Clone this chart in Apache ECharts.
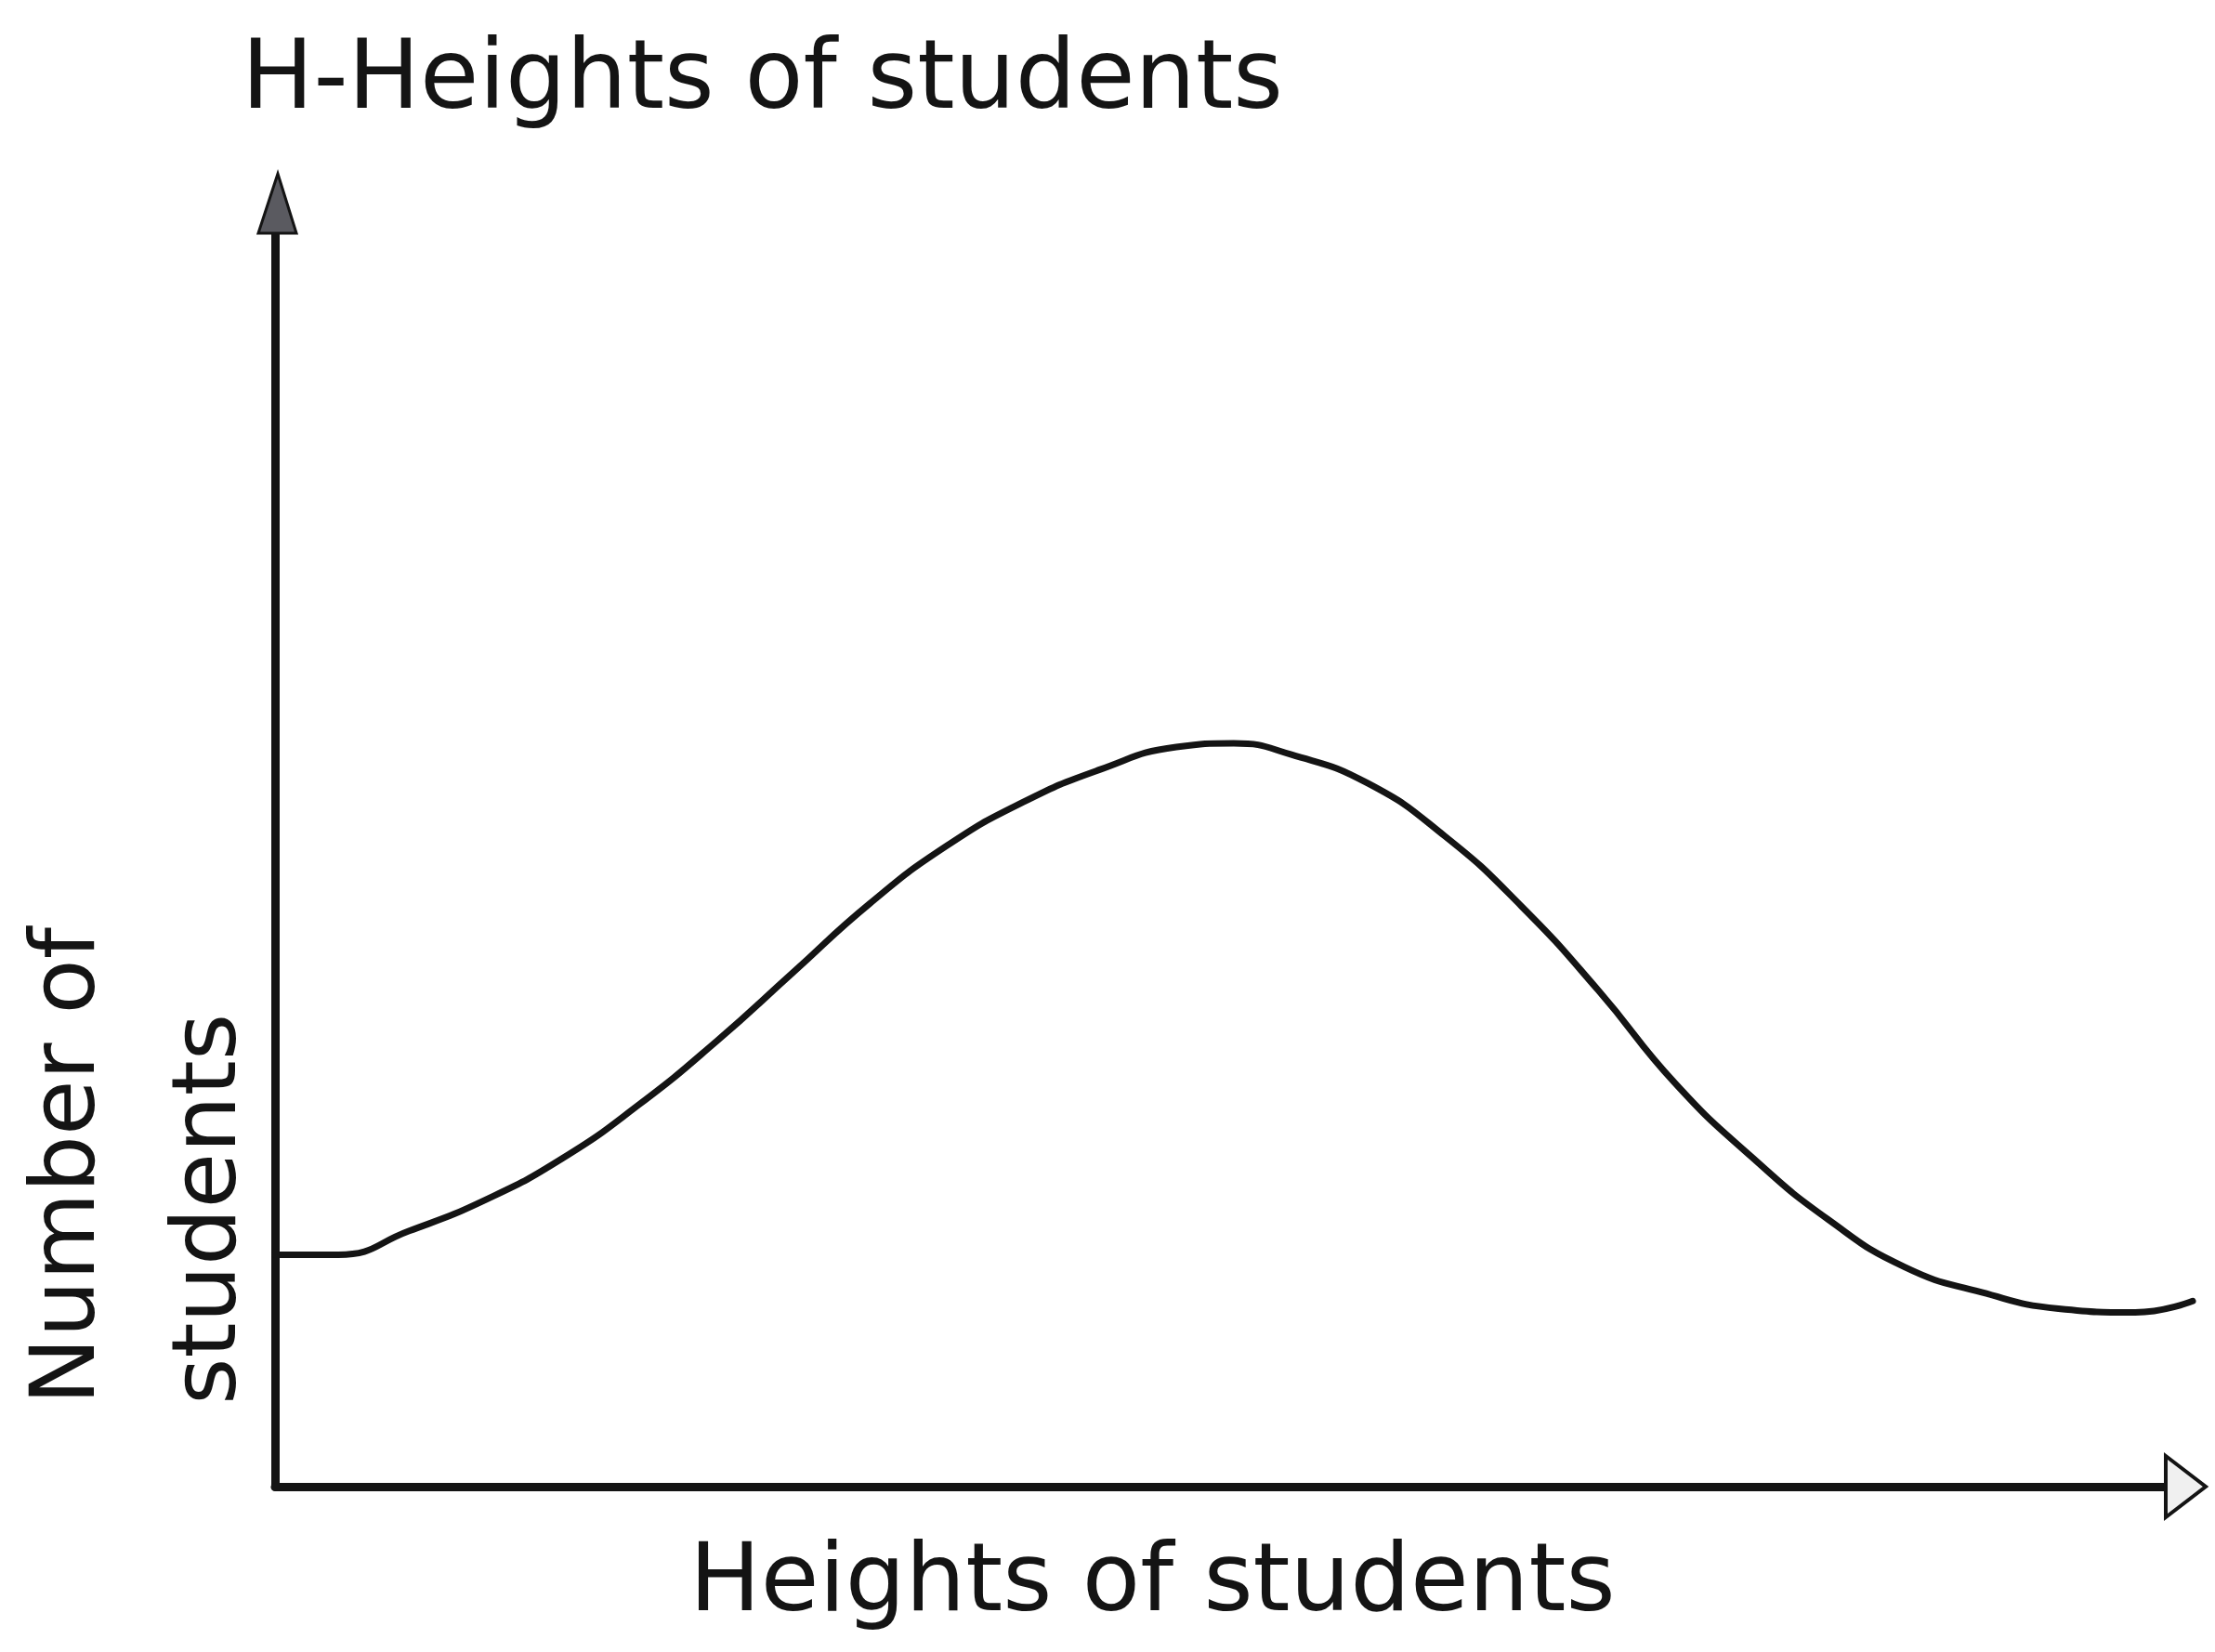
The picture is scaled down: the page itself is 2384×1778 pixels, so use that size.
<!DOCTYPE html>
<html>
<head>
<meta charset="utf-8">
<script src="https://cdn.jsdelivr.net/npm/echarts@6/dist/echarts.min.js"></script>
<style>
  html, body { margin: 0; padding: 0; background: #ffffff; }
  #chart { width: 2384px; height: 1778px; }
</style>
</head>
<body>
<div id="chart"></div>
<script>
// ---- data (arbitrary units, axes run 0..100) ----
const titleText = 'H-Heights of students';
const xAxisName = 'Heights of students';
const yAxisName = 'Number of\nstudents';
const heights = [0, 3.3, 7, 11, 15, 19, 23, 27, 31, 35, 39, 43, 47, 50, 53, 57, 61, 65, 69, 73, 77, 81, 85, 89, 93, 97, 100];
const students = [18.5, 18.5, 20.4, 22.9, 26.2, 30.5, 35.5, 41.0, 46.5, 51.1, 54.6, 57.2, 59.0, 59.3, 58.4, 56.1, 51.9, 46.3, 39.6, 32.2, 26.3, 21.3, 17.5, 15.5, 14.2, 13.9, 14.8];
const xRange = [0, 100];
const yRange = [0, 100];

const ink = '#141414';
const font = 'DejaVu Sans';

const chart = echarts.init(document.getElementById('chart'), null, { renderer: 'canvas' });

const curve = heights.map((h, i) => [h, students[i]]);

chart.setOption({
  backgroundColor: '#ffffff',
  animation: false,
  title: {
    text: titleText,
    left: 255,
    top: 23,
    textStyle: { fontFamily: font, fontSize: 103, fontWeight: 'normal', color: ink, lineHeight: 122 }
  },
  grid: { left: 296, right: 24, top: 251, bottom: 178, containLabel: false, outerBoundsMode: 'none' },
  xAxis: {
    type: 'value', min: xRange[0], max: xRange[1],
    name: xAxisName, nameLocation: 'start', nameGap: -446,
    nameTextStyle: { fontFamily: font, fontSize: 102, color: ink, align: 'left', verticalAlign: 'top',
      lineHeight: 122, padding: [45, 0, 0, 0] },
    axisLine: { show: true, onZero: false, lineStyle: { color: ink, width: 9 } },
    axisTick: { show: false }, axisLabel: { show: false }, splitLine: { show: false }
  },
  yAxis: {
    type: 'value', min: yRange[0], max: yRange[1],
    name: yAxisName, nameLocation: 'start', nameGap: -88, nameRotate: 90,
    nameTextStyle: { fontFamily: font, fontSize: 97, color: ink, align: 'left', verticalAlign: 'bottom',
      lineHeight: 152, padding: [0, 0, -8, 0] },
    axisLine: { show: true, onZero: false, lineStyle: { color: ink, width: 9 } },
    axisTick: { show: false }, axisLabel: { show: false }, splitLine: { show: false }
  },
  series: [{
    type: 'line',
    data: curve,
    smooth: 0.5,
    symbol: 'none',
    lineStyle: { color: ink, width: 7, join: 'round', cap: 'round' },
    z: 3
  }]
});

// axis arrow heads (decoration), placed from the axes' own pixel ends
const yEnd = chart.convertToPixel({ gridIndex: 0 }, [xRange[0], yRange[1]]);
const xEnd = chart.convertToPixel({ gridIndex: 0 }, [xRange[1], yRange[0]]);
chart.setOption({
  graphic: [
    {
      type: 'polygon', z: 100,
      shape: { points: [[yEnd[0] + 3, yEnd[1] - 64], [yEnd[0] + 23, yEnd[1]], [yEnd[0] - 18, yEnd[1]]] },
      style: { fill: '#5a5a60', stroke: ink, lineWidth: 3 }
    },
    {
      type: 'polygon', z: 100,
      shape: { points: [[xEnd[0] - 29, xEnd[1] - 33], [xEnd[0] + 14, xEnd[1]], [xEnd[0] - 29, xEnd[1] + 33]] },
      style: { fill: '#f0f0f0', stroke: ink, lineWidth: 4 }
    }
  ]
});
</script>
</body>
</html>
